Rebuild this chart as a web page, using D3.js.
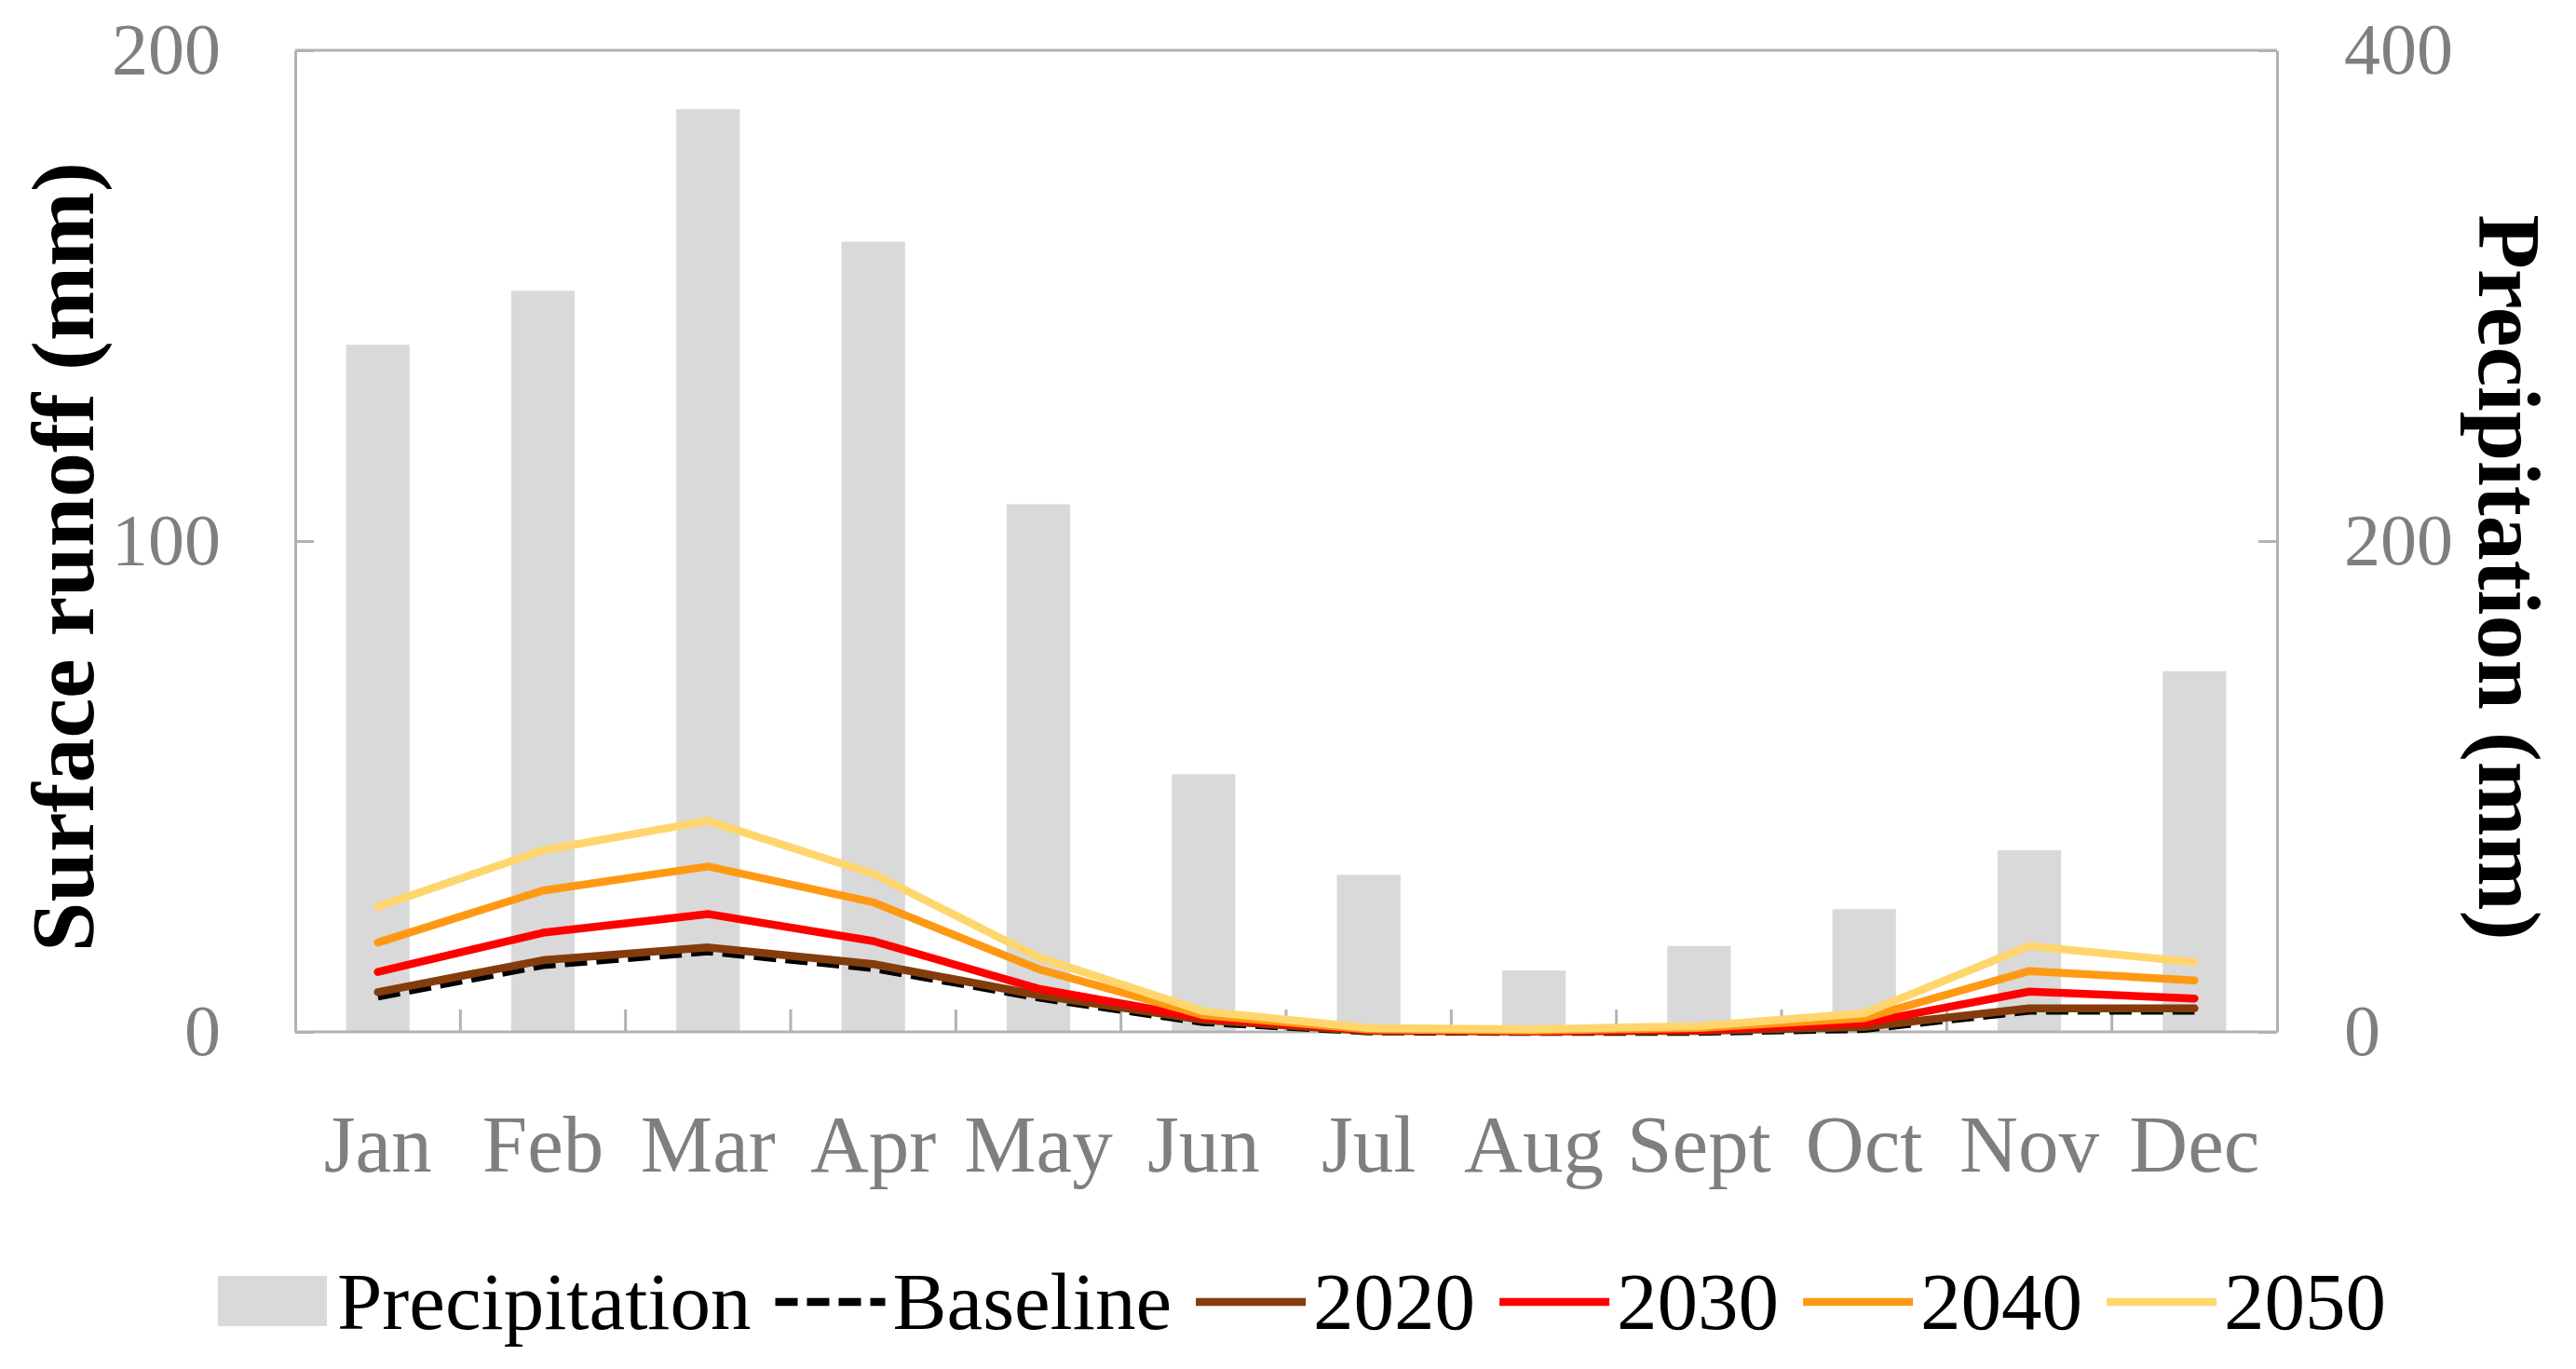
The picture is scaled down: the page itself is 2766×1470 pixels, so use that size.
<!DOCTYPE html>
<html>
<head>
<meta charset="utf-8">
<script src="https://cdn.jsdelivr.net/npm/d3@7"></script>
<style>
    html, body { margin: 0; padding: 0; background: #fff; }
    svg { display: block; }
</style>
</head>
<body>
<div id="chart-div"></div>
<script>
// data
const months = ['Jan', 'Feb', 'Mar', 'Apr', 'May', 'Jun', 'Jul', 'Aug', 'Sept', 'Oct', 'Nov', 'Dec'];
const precipitation = [280, 302, 376, 322, 215, 105, 64, 25, 35, 50, 74, 147]; // mm, right axis
const baseline = [7.2, 13.6, 16.4, 13.0, 7.0, 2.0, 0.1, 0, 0, 0.6, 4.3, 4.3];
const y2020 = [8.1, 14.6, 17.2, 13.8, 7.5, 2.4, 0.2, 0.1, 0.2, 1.0, 4.8, 4.8];
const y2030 = [12.2, 20.2, 24.0, 18.5, 8.8, 2.8, 0.4, 0.1, 0.4, 1.8, 8.2, 6.8];
const y2040 = [18.2, 28.8, 33.7, 26.4, 12.8, 3.4, 0.5, 0.3, 0.8, 2.8, 12.4, 10.5];
const y2050 = [25.5, 37.0, 43.0, 32.2, 15.2, 4.2, 0.8, 0.5, 1.2, 3.8, 17.5, 14.2];
const leftTicks = [0, 100, 200];
const rightTicks = [0, 200, 400];

const series = [
    { name: 'Baseline', values: baseline, color: '#000000', dash: '24,10' },
    { name: '2020', values: y2020, color: '#843C0C', dash: null },
    { name: '2030', values: y2030, color: '#FF0000', dash: null },
    { name: '2040', values: y2040, color: '#FF9914', dash: null },
    { name: '2050', values: y2050, color: '#FFD66E', dash: null },
];

window.Chart = window.Chart || {};

Chart.init = function() {
    Chart.setup.initConsts();
    Chart.setup.initSvg();
    Chart.setup.initScales();

    Chart.draw.bars();
    Chart.draw.frame();
    Chart.draw.lines();
    Chart.draw.axes();
    Chart.draw.titles();
    Chart.draw.legend();
};

Chart.setup = {
    initConsts: function() {
        Chart.width = 2766;
        Chart.height = 1470;

        Chart.left = 317;
        Chart.right = 2445;
        Chart.top = 54;
        Chart.bottom = 1108;

        Chart.font = '"Liberation Serif", "Times New Roman", serif';
        Chart.grey = '#B3B3B3';
        Chart.labelGrey = '#7F7F7F';
        Chart.lineW = 8.5;
    },

    initSvg: function() {
        Chart.svg = d3.select('#chart-div')
                      .append('svg')
                        .attr('width', Chart.width)
                        .attr('height', Chart.height);
    },

    initScales: function() {
        Chart.x = d3.scaleBand()
                    .domain(months)
                    .range([Chart.left, Chart.right]);
        Chart.yL = d3.scaleLinear()
                     .domain([0, 200])
                     .range([Chart.bottom, Chart.top]);
        Chart.yR = d3.scaleLinear()
                     .domain([0, 400])
                     .range([Chart.bottom, Chart.top]);
    },
};

Chart.draw = {
    bars: function() {
        let bw = Chart.x.bandwidth() * 0.385;
        Chart.svg.append('g')
          .selectAll('rect')
          .data(precipitation)
          .join('rect')
            .attr('x', (d, i) => Chart.x(months[i]) + (Chart.x.bandwidth() - bw) / 2)
            .attr('y', d => Chart.yR(d))
            .attr('width', bw)
            .attr('height', d => Chart.yR(0) - Chart.yR(d))
            .attr('fill', '#D9D9D9');
    },

    frame: function() {
        // plot area border + category boundary ticks
        let g = Chart.svg.append('g')
                    .attr('stroke', Chart.grey)
                    .attr('stroke-width', 3);
        g.append('line')
            .attr('x1', Chart.left).attr('x2', Chart.right)
            .attr('y1', Chart.top).attr('y2', Chart.top);
        g.append('line')
            .attr('x1', Chart.left).attr('x2', Chart.right)
            .attr('y1', Chart.bottom).attr('y2', Chart.bottom);

        g.selectAll('line.xtick')
          .data(months.slice(1))
          .join('line')
            .attr('class', 'xtick')
            .attr('x1', d => Chart.x(d)).attr('x2', d => Chart.x(d))
            .attr('y1', Chart.bottom).attr('y2', Chart.bottom - 24);
    },

    lines: function() {
        let line = d3.line()
                     .x((d, i) => Chart.x(months[i]) + Chart.x.bandwidth() / 2)
                     .y(d => Chart.yL(d));

        Chart.svg.append('g')
          .selectAll('path')
          .data(series)
          .join('path')
            .attr('d', s => line(s.values))
            .attr('fill', 'none')
            .attr('stroke', s => s.color)
            .attr('stroke-width', Chart.lineW)
            .attr('stroke-linejoin', 'round')
            .attr('stroke-linecap', s => s.dash ? 'butt' : 'round')
            .attr('stroke-dasharray', s => s.dash);
    },

    axes: function() {
        let styleAxis = function(g, size) {
            g.select('.domain').attr('stroke', Chart.grey).attr('stroke-width', 3);
            g.selectAll('.tick line').attr('stroke', Chart.grey).attr('stroke-width', 3);
            g.selectAll('.tick text')
                .attr('fill', Chart.labelGrey)
                .attr('font-family', Chart.font)
                .attr('font-size', size);
        };

        let left = Chart.svg.append('g')
                      .attr('transform', 'translate(' + Chart.left + ',0)')
                      .call(d3.axisLeft(Chart.yL)
                              .tickValues(leftTicks)
                              .tickSizeInner(-20)
                              .tickSizeOuter(0)
                              .tickPadding(80));
        styleAxis(left, 78);

        let right = Chart.svg.append('g')
                       .attr('transform', 'translate(' + Chart.right + ',0)')
                       .call(d3.axisRight(Chart.yR)
                               .tickValues(rightTicks)
                               .tickSizeInner(-20)
                               .tickSizeOuter(0)
                               .tickPadding(72));
        styleAxis(right, 78);

        let bottom = Chart.svg.append('g')
                        .attr('transform', 'translate(0,' + Chart.bottom + ')')
                        .call(d3.axisBottom(Chart.x)
                                .tickSize(0)
                                .tickPadding(88));
        bottom.select('.domain').remove();
        styleAxis(bottom, 87);
    },

    titles: function() {
        Chart.svg.append('text')
            .attr('transform', 'translate(100,598) rotate(-90)')
            .attr('text-anchor', 'middle')
            .attr('font-family', Chart.font)
            .attr('font-weight', 'bold')
            .attr('font-size', 96)
            .text('Surface runoff (mm)');

        Chart.svg.append('text')
            .attr('transform', 'translate(2662,620) rotate(90)')
            .attr('text-anchor', 'middle')
            .attr('font-family', Chart.font)
            .attr('font-weight', 'bold')
            .attr('font-size', 96)
            .text('Precipitation (mm)');
    },

    legend: function() {
        let g = Chart.svg.append('g');
        let items = [{ name: 'Precipitation', bar: true }].concat(series);
        let x = 0;
        let midY = 1398;
        let gap = 26;

        items.forEach(function(it, i) {
            if (it.bar) {
                g.append('rect')
                    .attr('x', x).attr('y', midY - 28)
                    .attr('width', 117).attr('height', 54)
                    .attr('fill', '#D9D9D9');
                x += 128;
            } else {
                g.append('line')
                    .attr('x1', x).attr('x2', x + 118)
                    .attr('y1', midY).attr('y2', midY)
                    .attr('stroke', it.color)
                    .attr('stroke-width', Chart.lineW)
                    .attr('stroke-dasharray', it.dash);
                x += 126;
            }
            let t = g.append('text')
                      .attr('x', x).attr('y', midY + 29)
                      .attr('font-family', Chart.font)
                      .attr('font-size', 87)
                      .attr('fill', '#000')
                      .text(it.name);
            x += t.node().getComputedTextLength() + gap;
        });

        let total = x - gap;
        g.attr('transform', 'translate(' + (1398 - total / 2) + ',0)');
    },
};

document.addEventListener('DOMContentLoaded', Chart.init);
</script>
</body>
</html>
